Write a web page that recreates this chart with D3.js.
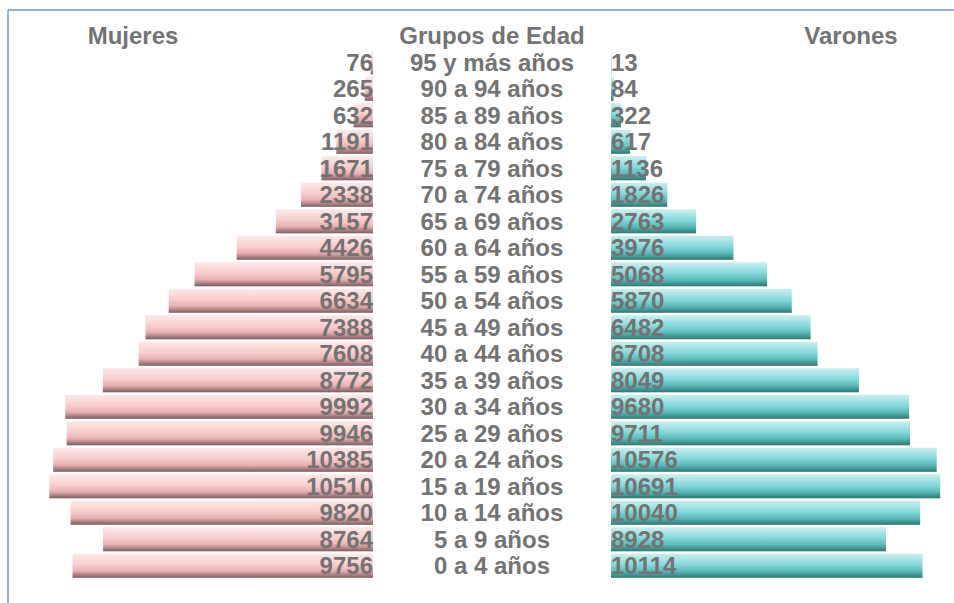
<!DOCTYPE html>
<html>
<head>
<meta charset="utf-8">
<script src="https://cdn.jsdelivr.net/npm/d3@7"></script>
<style>
  body { margin: 0; background: #fff; }
  text { font-family: "Liberation Sans", Arial, sans-serif; font-weight: bold; fill: #737373; }
</style>
</head>
<body>
<div id="pyramid"></div>
<script>
var grupos = ["95 y más años", "90 a 94 años", "85 a 89 años", "80 a 84 años", "75 a 79 años",
    "70 a 74 años", "65 a 69 años", "60 a 64 años", "55 a 59 años", "50 a 54 años",
    "45 a 49 años", "40 a 44 años", "35 a 39 años", "30 a 34 años", "25 a 29 años",
    "20 a 24 años", "15 a 19 años", "10 a 14 años", "5 a 9 años", "0 a 4 años"];
var mujeres = [76, 265, 632, 1191, 1671, 2338, 3157, 4426, 5795, 6634,
    7388, 7608, 8772, 9992, 9946, 10385, 10510, 9820, 8764, 9756];
var varones = [13, 84, 322, 617, 1136, 1826, 2763, 3976, 5068, 5870,
    6482, 6708, 8049, 9680, 9711, 10576, 10691, 10040, 8928, 10114];

(function(){
    var width = 954;
    var height = 603;
    var leftEdge = 373;   // where the women's bars end
    var rightEdge = 611;  // where the men's bars start

    var svg = d3.select("#pyramid")
        .append("svg")
        .attr("width", width)
        .attr("height", height);

    // frame lines (top and left)
    svg.append("line")
        .attr("x1", 8).attr("x2", width).attr("y1", 10).attr("y2", 10)
        .attr("stroke", "#8db3e2").attr("stroke-width", 2);
    svg.append("line")
        .attr("x1", 8).attr("x2", 8).attr("y1", 10).attr("y2", height)
        .attr("stroke", "#8db3e2").attr("stroke-width", 2);

    var defs = svg.append("defs");
    function gradient(id, stops){
        var g = defs.append("linearGradient")
            .attr("id", id)
            .attr("x1", 0).attr("x2", 0).attr("y1", 0).attr("y2", 1);
        stops.forEach(function(s){
            g.append("stop").attr("offset", s[0]).attr("stop-color", s[1]);
        });
    }
    gradient("pink", [["0%", "#fde9e9"], ["45%", "#f8cdcd"], ["72%", "#e8b0b2"], ["100%", "#7c5b5e"]]);
    gradient("teal", [["0%", "#cdeef0"], ["45%", "#86d9da"], ["72%", "#5cbab8"], ["100%", "#2e7876"]]);

    var y = d3.scaleBand()
        .domain(grupos)
        .range([49, 579])
        .paddingInner(0.09)
        .paddingOuter(0.045);

    var x = d3.scaleLinear()
        .domain([0, 10650])
        .range([0, 328]);

    // women
    svg.selectAll(".bar-m")
        .data(mujeres)
        .enter().append("rect")
        .attr("class", "bar-m")
        .attr("x", function(d){ return leftEdge - x(d); })
        .attr("y", function(d, i){ return y(grupos[i]); })
        .attr("width", function(d){ return x(d); })
        .attr("height", y.bandwidth())
        .attr("fill", "url(#pink)");

    // men
    svg.selectAll(".bar-v")
        .data(varones)
        .enter().append("rect")
        .attr("class", "bar-v")
        .attr("x", rightEdge)
        .attr("y", function(d, i){ return y(grupos[i]); })
        .attr("width", function(d){ return x(d); })
        .attr("height", y.bandwidth())
        .attr("fill", "url(#teal)");

    function mid(i){
        return y(grupos[i]) + y.bandwidth() / 2 + 8.5;
    }

    svg.selectAll(".lab-m")
        .data(mujeres)
        .enter().append("text")
        .attr("class", "lab-m")
        .attr("x", leftEdge)
        .attr("y", function(d, i){ return mid(i); })
        .attr("text-anchor", "end")
        .attr("font-size", "24px")
        .text(function(d){ return d; });

    svg.selectAll(".lab-v")
        .data(varones)
        .enter().append("text")
        .attr("class", "lab-v")
        .attr("x", rightEdge)
        .attr("y", function(d, i){ return mid(i); })
        .attr("text-anchor", "start")
        .attr("font-size", "24px")
        .text(function(d){ return d; });

    svg.selectAll(".grupo")
        .data(grupos)
        .enter().append("text")
        .attr("class", "grupo")
        .attr("x", 492)
        .attr("y", function(d, i){ return mid(i); })
        .attr("text-anchor", "middle")
        .attr("font-size", "24px")
        .text(function(d){ return d; });

    // headers
    var headers = [["Mujeres", 133], ["Grupos de Edad", 492], ["Varones", 851]];
    svg.selectAll(".header")
        .data(headers)
        .enter().append("text")
        .attr("class", "header")
        .attr("x", function(d){ return d[1]; })
        .attr("y", 44)
        .attr("text-anchor", "middle")
        .attr("font-size", "24px")
        .text(function(d){ return d[0]; });
})();
</script>
</body>
</html>
